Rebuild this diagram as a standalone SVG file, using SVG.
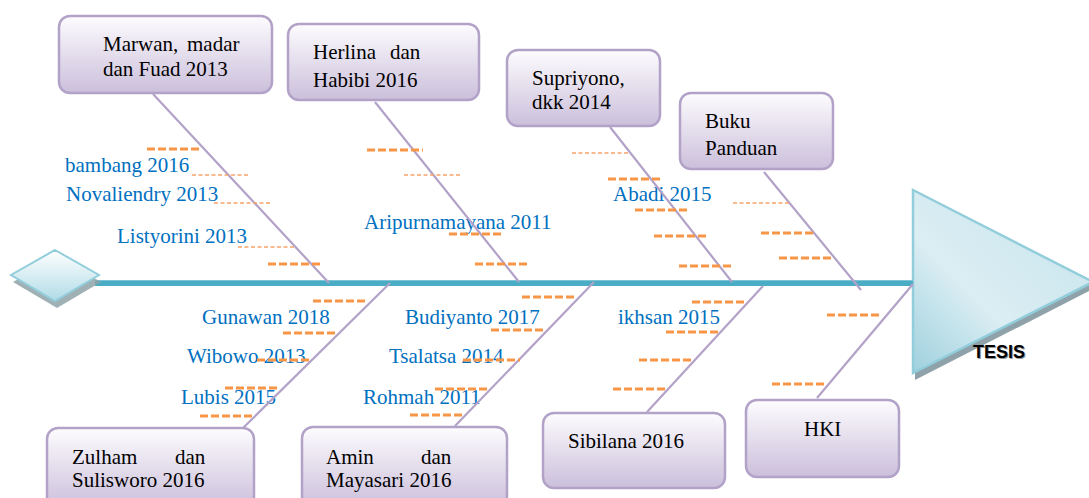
<svg xmlns="http://www.w3.org/2000/svg" width="1089" height="498" viewBox="0 0 1089 498">
<defs>
<linearGradient id="boxg" x1="0" y1="0" x2="0" y2="1">
<stop offset="0" stop-color="#fdfcfe"/>
<stop offset="1" stop-color="#cbbfdb"/>
</linearGradient>
<linearGradient id="trig" x1="0" y1="1" x2="0.7" y2="0.3">
<stop offset="0" stop-color="#9fd0de"/>
<stop offset="0.55" stop-color="#dbeef3"/>
<stop offset="1" stop-color="#cfe8ef"/>
</linearGradient>
<linearGradient id="diag" x1="0" y1="0" x2="0" y2="1">
<stop offset="0" stop-color="#ffffff"/>
<stop offset="1" stop-color="#b0dbe6"/>
</linearGradient>
<style>
.box{fill:url(#boxg);stroke:#b3a2c8;stroke-width:2.5}
.bt{font-family:"Liberation Serif","Times New Roman",serif;font-size:21px;fill:#000}
.lb{font-family:"Liberation Serif","Times New Roman",serif;font-size:21px;fill:#0070c0}
.bone{stroke:#b3a2c8;stroke-width:2.2;fill:none}
.dk{stroke:#f79646;stroke-width:3;stroke-dasharray:8 3;fill:none}
.dt{stroke:#f7a46a;stroke-width:1.3;stroke-dasharray:4 2.5;fill:none}
</style>
</defs>
<rect width="1089" height="498" fill="#ffffff"/>

<g id="labels">
<text class="lb" x="65" y="172">bambang 2016</text>
<text class="lb" x="66" y="201">Novaliendry 2013</text>
<text class="lb" x="117" y="243">Listyorini 2013</text>
<text class="lb" x="364" y="229">Aripurnamayana 2011</text>
<text class="lb" x="613" y="201">Abadi 2015</text>
<text class="lb" x="202" y="324">Gunawan 2018</text>
<text class="lb" x="187" y="363">Wibowo 2013</text>
<text class="lb" x="181" y="404">Lubis 2015</text>
<text class="lb" x="405" y="324">Budiyanto 2017</text>
<text class="lb" x="389" y="363">Tsalatsa 2014</text>
<text class="lb" x="363" y="404">Rohmah 2011</text>
<text class="lb" x="618" y="324">ikhsan 2015</text>
</g>

<g id="head">
<polygon points="915,196 1095,288 915,380" fill="#8fa2a9"/>
<polygon points="913,190 1093,282 913,373" fill="url(#trig)" stroke="#92cddc" stroke-width="2.5" stroke-linejoin="miter"/>
<text x="974" y="359" font-family="'Liberation Sans',Arial,sans-serif" font-size="18" font-weight="bold" fill="#9a9a9a">TESIS</text>
<text x="973" y="358" font-family="'Liberation Sans',Arial,sans-serif" font-size="18" font-weight="bold" fill="#000">TESIS</text>
</g>

<g id="connectors">
<line x1="95" y1="283" x2="913" y2="283" stroke="#4bacc6" stroke-width="6"/>
<line x1="95" y1="280.5" x2="913" y2="280.5" stroke="#7cc3d6" stroke-width="1"/>
<line class="bone" x1="153" y1="94" x2="329" y2="283"/>
<line class="bone" x1="375" y1="102" x2="519" y2="282"/>
<line class="bone" x1="610" y1="127" x2="732" y2="282"/>
<line class="bone" x1="764" y1="172" x2="861" y2="290"/>
<line class="bone" x1="243" y1="428" x2="390" y2="283"/>
<line class="bone" x1="455" y1="426" x2="594" y2="282"/>
<line class="bone" x1="647" y1="412" x2="763" y2="286"/>
<line class="bone" x1="817" y1="398" x2="913" y2="284"/>

<line class="dk" x1="147" y1="149" x2="202" y2="149"/>
<line class="dt" x1="192" y1="175" x2="250" y2="175"/>
<line class="dt" x1="214" y1="203" x2="272" y2="203"/>
<line class="dt" x1="238" y1="247" x2="295" y2="247"/>
<line class="dk" x1="268" y1="264" x2="323" y2="264"/>

<line class="dk" x1="367" y1="150" x2="423" y2="150"/>
<line class="dt" x1="404" y1="175" x2="462" y2="175"/>
<line class="dk" x1="449" y1="234" x2="504" y2="234"/>
<line class="dk" x1="475" y1="264" x2="530" y2="264"/>

<line class="dt" x1="572" y1="153" x2="630" y2="153"/>
<line class="dk" x1="608" y1="179" x2="663" y2="179"/>
<line class="dk" x1="635" y1="210" x2="690" y2="210"/>
<line class="dk" x1="654" y1="236" x2="709" y2="236"/>
<line class="dk" x1="679" y1="266" x2="734" y2="266"/>

<line class="dt" x1="733" y1="203" x2="791" y2="203"/>
<line class="dk" x1="761" y1="233" x2="816" y2="233"/>
<line class="dk" x1="779" y1="258" x2="834" y2="258"/>

<line class="dk" x1="313" y1="301" x2="368" y2="301"/>
<line class="dk" x1="283" y1="333" x2="338" y2="333"/>
<line class="dk" x1="257" y1="360" x2="311" y2="360"/>
<line class="dk" x1="225" y1="388" x2="280" y2="388"/>
<line class="dk" x1="200" y1="416" x2="255" y2="416"/>

<line class="dk" x1="522" y1="297" x2="577" y2="297"/>
<line class="dk" x1="491" y1="330" x2="546" y2="330"/>
<line class="dk" x1="463" y1="360" x2="520" y2="360"/>
<line class="dk" x1="435" y1="389" x2="490" y2="389"/>
<line class="dk" x1="410" y1="415" x2="464" y2="415"/>

<line class="dk" x1="692" y1="302" x2="747" y2="302"/>
<line class="dk" x1="666" y1="332" x2="721" y2="332"/>
<line class="dk" x1="639" y1="360" x2="694" y2="360"/>
<line class="dk" x1="613" y1="389" x2="668" y2="389"/>

<line class="dk" x1="827" y1="315" x2="882" y2="315"/>
<line class="dk" x1="772" y1="384" x2="827" y2="384"/>
</g>

<g id="tail">
<polygon points="57,257 101,282 57,308 13,282" fill="#8fa3a8" opacity="0.85"/>
<polygon points="55,250 99,275 55,301 11,275" fill="url(#diag)" stroke="#92cddc" stroke-width="2"/>
</g>

<g id="n-marwan">
<rect class="box" x="59" y="16" width="213" height="77" rx="11"/>
<text class="bt" x="103" y="51">Marwan,<tspan x="187">madar</tspan></text>
<text class="bt" x="103" y="76">dan Fuad 2013</text>
</g>
<g id="n-herlina">
<rect class="box" x="288" y="24" width="191" height="76" rx="11"/>
<text class="bt" x="313" y="59">Herlina<tspan x="390">dan</tspan></text>
<text class="bt" x="313" y="87">Habibi 2016</text>
</g>
<g id="n-supriyono">
<rect class="box" x="507" y="50" width="153" height="76" rx="11"/>
<text class="bt" x="532" y="85">Supriyono,</text>
<text class="bt" x="532" y="109">dkk 2014</text>
</g>
<g id="n-buku">
<rect class="box" x="680" y="93" width="153" height="76" rx="11"/>
<text class="bt" x="705" y="128">Buku</text>
<text class="bt" x="705" y="155">Panduan</text>
</g>
<g id="n-zulham">
<rect class="box" x="47" y="428" width="207" height="80" rx="11"/>
<text class="bt" x="72" y="464">Zulham<tspan x="175">dan</tspan></text>
<text class="bt" x="72" y="487">Sulisworo 2016</text>
</g>
<g id="n-amin">
<rect class="box" x="302" y="427" width="205" height="80" rx="11"/>
<text class="bt" x="326" y="464">Amin<tspan x="421">dan</tspan></text>
<text class="bt" x="326" y="487">Mayasari 2016</text>
</g>
<g id="n-sibilana">
<rect class="box" x="543" y="413" width="182" height="75" rx="11"/>
<text class="bt" x="568" y="448">Sibilana 2016</text>
</g>
<g id="n-hki">
<rect class="box" x="746" y="400" width="153" height="77" rx="11"/>
<text class="bt" x="804" y="436">HKI</text>
</g>
</svg>
